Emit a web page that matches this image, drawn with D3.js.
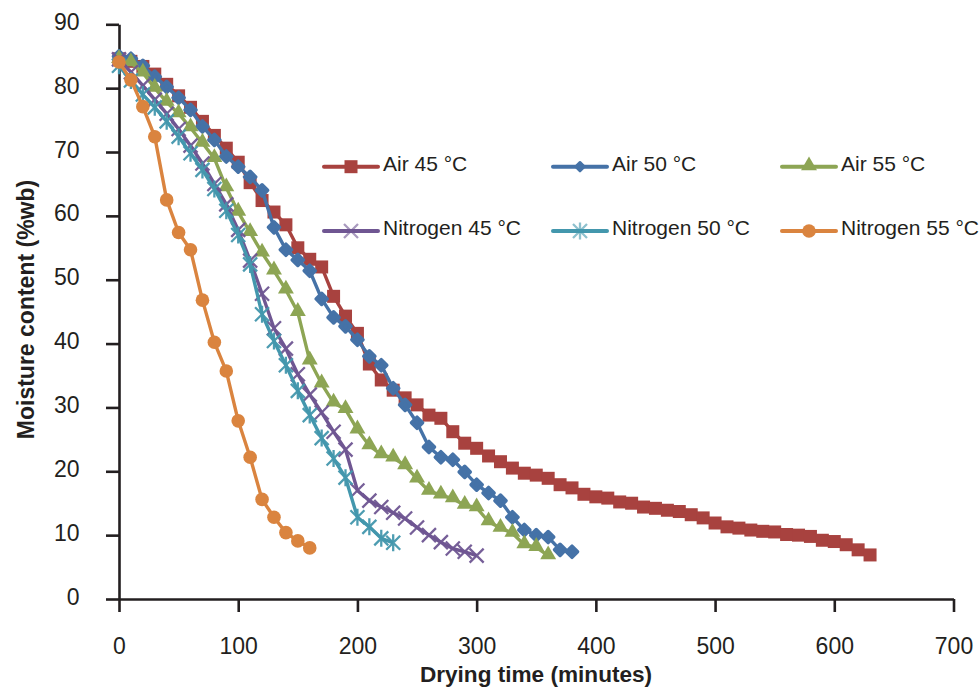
<!DOCTYPE html>
<html>
<head>
<meta charset="utf-8">
<script src="https://cdn.jsdelivr.net/npm/d3@7"></script>
<style>
body { margin: 0; background: #fff; }
text { font-family: "Liberation Sans", Arial, sans-serif; fill: #231f20; }
</style>
</head>
<body>
<script>

// drying time of each reading (minutes), shared by all series
var minutes = [0,10,20,30,40,50,60,70,80,90,100,110,120,130,140,150,160,170,180,190,
  200,210,220,230,240,250,260,270,280,290,300,310,320,330,340,350,360,370,380,390,
  400,410,420,430,440,450,460,470,480,490,500,510,520,530,540,550,560,570,580,590,
  600,610,620,630];

// moisture content (%wb)
var air45 = [84.6,84.2,83.4,82.2,80.6,78.8,77.0,74.8,72.6,70.6,68.4,65.2,62.4,60.6,58.6,55.0,
  53.2,52.0,47.4,44.3,41.6,36.8,34.3,32.7,31.5,30.4,28.8,28.3,26.2,24.4,23.6,22.4,21.5,20.5,
  19.7,19.4,18.9,17.9,17.4,16.4,16.0,15.8,15.2,15.0,14.4,14.2,13.9,13.7,13.2,12.7,11.9,11.3,
  11.1,10.8,10.6,10.5,10.1,10.0,9.8,9.2,9.0,8.5,7.7,6.9];
var air50 = [85.0,84.6,83.5,81.8,80.2,78.5,76.6,74.0,71.9,69.3,67.7,66.1,64.0,58.2,54.7,53.1,
  51.4,47.0,44.1,42.7,40.6,38.0,36.6,33.0,30.4,27.6,23.8,22.2,21.8,19.9,17.9,16.6,15.4,12.8,
  10.8,10.0,9.7,7.7,7.4];
var air55 = [84.5,84.0,82.4,80.0,77.8,76.0,73.8,71.4,69.0,64.4,60.6,57.4,54.2,51.4,48.4,44.9,
  37.3,33.7,30.7,29.7,26.5,24.0,22.6,22.1,20.9,18.8,16.9,16.3,15.7,14.7,14.3,12.1,11.1,10.3,
  8.5,8.1,6.8];
var nitrogen45 = [84.5,82.5,80.4,78.2,76.0,73.6,71.0,68.2,65.0,61.8,57.8,53.0,47.8,42.4,39.2,35.2,
  32.0,29.2,26.2,23.4,17.0,15.4,14.4,13.5,12.6,11.2,10.0,8.9,7.9,7.4,6.8];
var nitrogen50 = [83.5,81.2,79.0,77.0,74.8,72.4,69.8,67.2,64.2,60.8,57.0,52.4,44.6,40.4,36.6,32.6,
  28.8,25.2,22.0,19.0,12.8,11.3,9.5,8.8];
var nitrogen55 = [84.1,81.3,77.1,72.4,62.5,57.4,54.7,46.8,40.2,35.7,27.9,22.2,15.6,12.8,10.4,9.1,8.0];

var seriesNames = ["Air 45 °C","Air 50 °C","Air 55 °C","Nitrogen 45 °C","Nitrogen 50 °C","Nitrogen 55 °C"];
var xTicks = [0,100,200,300,400,500,600,700];
var yTicks = [0,10,20,30,40,50,60,70,80,90];

var allValues = [air45, air50, air55, nitrogen45, nitrogen50, nitrogen55];
var colors = ["#a8423f","#4572a7","#8da554","#6f5692","#4397ad","#da843f"];
var shapes = ["square","diamond","triangle","cross","star","circle"];

var width = 979, height = 688;

var svg = d3.select("body").append("svg")
  .attr("width", width)
  .attr("height", height);

var x = d3.scaleLinear().domain([0, 700]).range([119, 953.5]);
var y = d3.scaleLinear().domain([0, 90]).range([599, 24.3]);

// axes
var xAxis = svg.append("g")
  .attr("transform", "translate(0," + y(0) + ")")
  .call(d3.axisBottom(x).tickValues(xTicks).tickSize(13).tickSizeOuter(0).tickPadding(25.7));
var yAxis = svg.append("g")
  .attr("transform", "translate(" + x(0) + ",0)")
  .call(d3.axisLeft(y).tickValues(yTicks).tickSize(13).tickSizeOuter(0).tickPadding(26.5));

[xAxis, yAxis].forEach(function(a) {
  a.selectAll("path, line").attr("stroke", "#231f20").attr("stroke-width", 2.6);
  a.selectAll("text").attr("font-size", 23).attr("fill", "#231f20")
    .attr("font-family", '"Liberation Sans", Arial, sans-serif');
});
yAxis.selectAll("text").attr("dy", "0.22em");

svg.append("text")
  .attr("x", 536).attr("y", 682)
  .attr("text-anchor", "middle")
  .attr("font-size", 22.6).attr("font-weight", "bold")
  .text("Drying time (minutes)");

svg.append("text")
  .attr("transform", "translate(33.5,309.5) rotate(-90)")
  .attr("text-anchor", "middle")
  .attr("font-size", 23).attr("font-weight", "bold")
  .text("Moisture content (%wb)");

// markers
function marker(g, shape, color, cx, cy, legend) {
  if (shape == "square") {
    g.append("rect").attr("x", cx - 6.5).attr("y", cy - 6.5)
      .attr("width", 13).attr("height", 13).attr("fill", color);
  } else if (shape == "diamond") {
    // square turned 45 degrees, rounded corners
    g.append("path").attr("d", d3.symbol(d3.symbolSquare, legend ? 40 : 62)())
      .attr("transform", "translate(" + cx + "," + cy + ") rotate(45)")
      .attr("fill", color).attr("stroke", color).attr("stroke-width", legend ? 2.5 : 3.5)
      .attr("stroke-linejoin", "round");
  } else if (shape == "triangle") {
    g.append("path").attr("d", d3.symbol(d3.symbolTriangle, 110)())
      .attr("transform", "translate(" + cx + "," + (cy - 1) + ")")
      .attr("fill", color);
  } else if (shape == "circle") {
    g.append("circle").attr("cx", cx).attr("cy", cy).attr("r", 6.8).attr("fill", color);
  } else {
    var r = 7;
    var p = "M" + (cx - r) + "," + (cy - r) + "L" + (cx + r) + "," + (cy + r) +
      "M" + (cx - r) + "," + (cy + r) + "L" + (cx + r) + "," + (cy - r);
    if (shape == "star") p += "M" + cx + "," + (cy - 8.5) + "L" + cx + "," + (cy + 8.5);
    g.append("path").attr("d", p).attr("fill", "none")
      .attr("stroke", color).attr("stroke-width", 2.3)
      .attr("stroke-opacity", legend ? 0.6 : 0.95);
  }
}

var line = d3.line()
  .x(function(d) { return x(d[0]); })
  .y(function(d) { return y(d[1]); });

allValues.forEach(function(vals, s) {
  var pts = vals.map(function(v, i) { return [minutes[i], v]; });
  var g = svg.append("g");
  g.append("path")
    .attr("d", line(pts))
    .attr("fill", "none")
    .attr("stroke", colors[s])
    .attr("stroke-width", 3.4)
    .attr("stroke-linejoin", "round");
  pts.forEach(function(p) {
    marker(g, shapes[s], colors[s], x(p[0]), y(p[1]), false);
  });
});

// legend, 3 columns x 2 rows
var legendX = [324, 553, 782];
var legendY = [166.7, 231];
seriesNames.forEach(function(name, s) {
  var lx = legendX[s % 3], ly = legendY[Math.floor(s / 3)];
  var g = svg.append("g");
  g.append("line")
    .attr("x1", lx).attr("x2", lx + 54)
    .attr("y1", ly).attr("y2", ly)
    .attr("stroke", colors[s]).attr("stroke-width", 4)
    .attr("stroke-linecap", "round");
  marker(g, shapes[s], colors[s], lx + 27, ly, true);
  g.append("text")
    .attr("x", lx + 59).attr("y", ly + 3.8)
    .attr("font-size", 21)
    .text(name);
});

</script>
</body>
</html>
